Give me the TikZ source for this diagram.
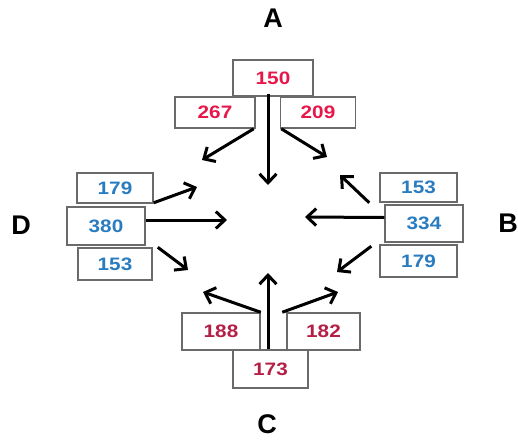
\documentclass[tikz,border=0pt]{standalone}
\usepackage{fontspec}
\setmainfont{Liberation Sans}
\usetikzlibrary{arrows.meta}
\definecolor{topred}{HTML}{E8174A}
\definecolor{botred}{HTML}{B51E45}
\definecolor{numblue}{HTML}{2A7CC0}
\definecolor{edgegray}{HTML}{6A6A6A}
% slightly widened digits
\newcommand{\wnum}[1]{\scalebox{1.15}[1]{#1}}
\begin{document}
\begin{tikzpicture}[x=1pt,y=-1pt,
  numbox/.style={draw=edgegray,line width=1.5pt,fill=white,inner sep=0pt,
    font=\fontsize{18}{18}\selectfont\bfseries},
  corner/.style={inner sep=0pt,font=\fontsize{27}{27}\selectfont\bfseries},
  flow/.style={line width=3pt,-{Straight Barb[length=9pt,width=17pt]}}]
\useasboundingbox (0,0) rectangle (518,442);

% compass labels
\node[corner] (lA) at (273,18) {A};
\node[corner] (lB) at (508,223) {B};
\node[corner] (lC) at (267,424) {C};
\node[corner] (lD) at (21,225) {D};

% group A (top)
\node[numbox,text=topred,minimum width=80pt,minimum height=36pt] (a150) at (273,78) {\wnum{150}};
\node[numbox,text=topred,minimum width=80pt,minimum height=31pt] (a267) at (215,112.5) {\wnum{267}};
\node[numbox,text=topred,minimum width=75pt,minimum height=31pt] (a209) at (318,112.5) {\wnum{209}};

% group D (left)
\node[numbox,text=numblue,minimum width=76pt,minimum height=30pt] (d179) at (115,188) {\wnum{179}};
\node[numbox,text=numblue,minimum width=78pt,minimum height=38pt] (d380) at (106,226) {\wnum{380}};
\node[numbox,text=numblue,minimum width=74pt,minimum height=32pt] (d153) at (115,264) {\wnum{153}};

% group B (right)
\node[numbox,text=numblue,minimum width=77pt,minimum height=29pt] (b153) at (418.5,187.5) {\wnum{153}};
\node[numbox,text=numblue,minimum width=78pt,minimum height=37pt] (b334) at (424,223.5) {\wnum{334}};
\node[numbox,text=numblue,minimum width=77pt,minimum height=32pt] (b179) at (418.5,261) {\wnum{179}};

% group C (bottom)
\node[numbox,text=botred,minimum width=78pt,minimum height=37pt] (c188) at (221,331.5) {\wnum{188}};
\node[numbox,text=botred,minimum width=73pt,minimum height=37pt] (c182) at (323.5,331.5) {\wnum{182}};
\node[numbox,text=botred,minimum width=75pt,minimum height=38pt] (c173) at (270.5,369) {\wnum{173}};

% arrow targets
\coordinate (tA1) at (202,160);
\coordinate (tA2) at (268,185);
\coordinate (tA3) at (327,157);
\coordinate (tD1) at (197,187);
\coordinate (tD2) at (227,220);
\coordinate (tD3) at (188,270);
\coordinate (tB1) at (340,175);
\coordinate (tB2) at (305,217);
\coordinate (tB3) at (337,272);
\coordinate (tC1) at (203,292);
\coordinate (tC2) at (268,273);
\coordinate (tC3) at (338,292);

% arrows
\draw[flow] ([xshift=-2pt]a267.south east) -- (tA1);
\draw[flow] ([xshift=-5pt,yshift=3pt]a150.south) -- (tA2);
\draw[flow] ([xshift=1.5pt]a209.south west) -- (tA3);

\draw[flow] ([yshift=1pt]d179.south east) -- (tD1);
\draw[flow] ([yshift=6pt]d380.east) -- (tD2);
\draw[flow] ([xshift=5pt]d153.north east) -- (tD3);

\draw[flow] ([xshift=-10pt]b153.south west) -- (tB1);
\draw[flow] ([yshift=6pt]b334.west) -- (tB2);
\draw[flow] ([xshift=-8pt,yshift=-2pt]b179.north west) -- (tB3);

\draw[flow] (c188.north east) -- (tC1);
\draw[flow] ([xshift=-2.5pt]c173.north) -- (tC2);
\draw[flow] ([xshift=-4pt]c182.north west) -- (tC3);
\end{tikzpicture}
\end{document}
